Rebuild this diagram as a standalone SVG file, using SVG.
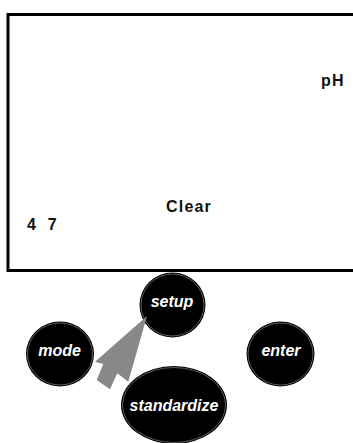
<svg xmlns="http://www.w3.org/2000/svg" width="353" height="443" viewBox="0 0 353 443">
<style>
.lcd{font-family:"Liberation Sans",Arial,sans-serif;font-weight:bold;font-size:16px;fill:#111;letter-spacing:1.2px}
.btn{fill:#000}
.ring{fill:none;stroke:#9a9a9a;stroke-width:0.6}
.lbl{font-family:"Liberation Sans",Arial,sans-serif;font-weight:bold;font-style:italic;font-size:16px;fill:#fff;text-anchor:middle}
</style>
<g id="display">
<rect x="8" y="14.5" width="360" height="256" fill="#fff" stroke="#000" stroke-width="3"/>
<text class="lcd" x="321" y="86">pH</text>
<text class="lcd" x="166" y="211.5">Clear</text>
<text class="lcd" x="27" y="230" word-spacing="5">4 7</text>
</g>
<g id="setup">
<ellipse class="btn" cx="172.5" cy="305" rx="33" ry="32.5"/>
<ellipse class="ring" cx="172.5" cy="305" rx="31.5" ry="31"/>
<text class="lbl" x="172" y="306.5">setup</text>
</g>
<g id="mode">
<ellipse class="btn" cx="60" cy="354" rx="34" ry="32.5"/>
<ellipse class="ring" cx="60" cy="354" rx="32.5" ry="31"/>
<text class="lbl" x="59.5" y="356">mode</text>
</g>
<g id="enter">
<ellipse class="btn" cx="280.5" cy="354" rx="34" ry="32.5"/>
<ellipse class="ring" cx="280.5" cy="354" rx="32.5" ry="31"/>
<text class="lbl" x="281" y="356">enter</text>
</g>
<g id="standardize">
<ellipse class="btn" cx="174" cy="405" rx="53" ry="39"/>
<ellipse class="ring" cx="174" cy="405" rx="51.5" ry="37.5"/>
<text class="lbl" x="174" y="410.5">standardize</text>
</g>
<g id="connectors">
<polygon points="147,316 128.3,381.7 117.3,373.3 110,389.3 96.7,380 103.3,364 95,361.7" fill="#888"/>
</g>
</svg>
